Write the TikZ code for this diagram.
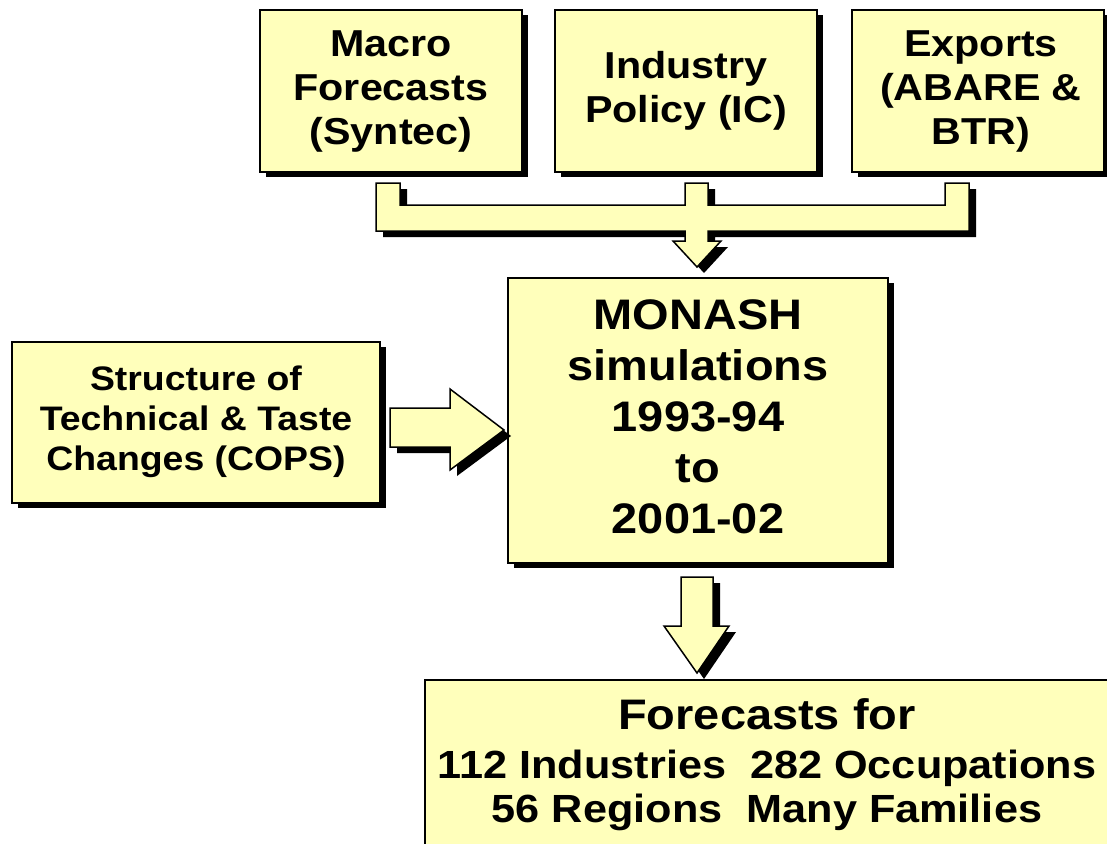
\documentclass[tikz,border=0pt]{standalone}
\usepackage{fontspec}
\setmainfont{Liberation Sans}[FakeStretch=1.1]
\usetikzlibrary{shadows}
\definecolor{boxy}{RGB}{255,255,187}
\begin{document}
\begin{tikzpicture}[x=1pt,y=-1pt,
  box/.style={draw=black, line width=1.5pt, fill=boxy, inner sep=0pt,
    general shadow={fill=black, shadow xshift=6pt, shadow yshift=-5pt}},
  txt/.style={align=center, inner sep=0pt},
  topfont/.style={font=\bfseries\fontsize{37.5}{44}\selectfont},
  bigfont/.style={font=\bfseries\fontsize{42.7}{51}\selectfont},
  midfont/.style={font=\bfseries\fontsize{34}{40}\selectfont},
  lowfont/.style={font=\bfseries\fontsize{39.3}{44}\selectfont},
  blockarrow/.style={draw=black, line width=1.5pt, fill=boxy, line join=miter},
  arrowshadow/.style={fill=black, shift={(7,6)}}]
\useasboundingbox (0,0) rectangle (1107,843);
\clip (0,0) rectangle (1107,843);
% boxes
\node[box, minimum width=262pt, minimum height=162pt] (macro) at (391,91) {};
\node[txt, topfont] (macrot) at (391,91.5) {Macro\\Forecasts\\(Syntec)};
\node[box, minimum width=262pt, minimum height=162pt] (industry) at (686,91) {};
\node[txt, topfont] (industryt) at (686,91) {Industry\\Policy (IC)};
\node[box, minimum width=252pt, minimum height=162pt] (exports) at (978,91) {};
\node[txt, topfont] (exportst) at (981,91.5) {Exports\\(ABARE \&\\BTR)};
\node[box, minimum width=368pt, minimum height=161pt] (structure) at (196,422.5) {};
\node[txt, midfont] (structuret) at (196,422) {Structure of\\Technical \& Taste\\Changes (COPS)};
\node[box, minimum width=380pt, minimum height=285pt] (monash) at (698,420.5) {};
\node[txt, bigfont] (monasht) at (698,417) {MONASH\\simulations\\1993-94\\to\\2001-02};
\node[box, minimum width=684pt, minimum height=220pt] (fore) at (767,790) {};
\node[txt, bigfont, anchor=base] (foret1) at (767,729) {Forecasts for};
\node[txt, lowfont, anchor=base] (foret2) at (767,778) {112 Industries\ \ 282 Occupations};
\node[txt, lowfont, anchor=base] (foret3) at (767,822) {56 Regions\ \ Many Families};
% merging arrow from top boxes to MONASH
\def\toparrow{(376,183) -- (400,183) -- (400,205) -- (685,205) -- (685,183) -- (708,183) -- (708,205) -- (945,205) -- (945,183) -- (969,183) -- (969,231) -- (708,231) -- (708,241) -- (721,241) -- (697,267) -- (673,241) -- (685,241) -- (685,231) -- (376,231) -- cycle}
\fill[arrowshadow] \toparrow;
\draw[blockarrow] \toparrow;
% arrow from structure to MONASH
\def\leftarrowshape{(390,408) -- (450,408) -- (450,389) -- (504,430) -- (450,470) -- (450,447) -- (390,447) -- cycle}
\fill[arrowshadow] \leftarrowshape;
\draw[blockarrow] \leftarrowshape;
% arrow from MONASH to forecasts
\def\downarrowshape{(681,577) -- (713,577) -- (713,626) -- (729,626) -- (697,673) -- (664,626) -- (681,626) -- cycle}
\fill[arrowshadow] \downarrowshape;
\draw[blockarrow] \downarrowshape;
\end{tikzpicture}
\end{document}
